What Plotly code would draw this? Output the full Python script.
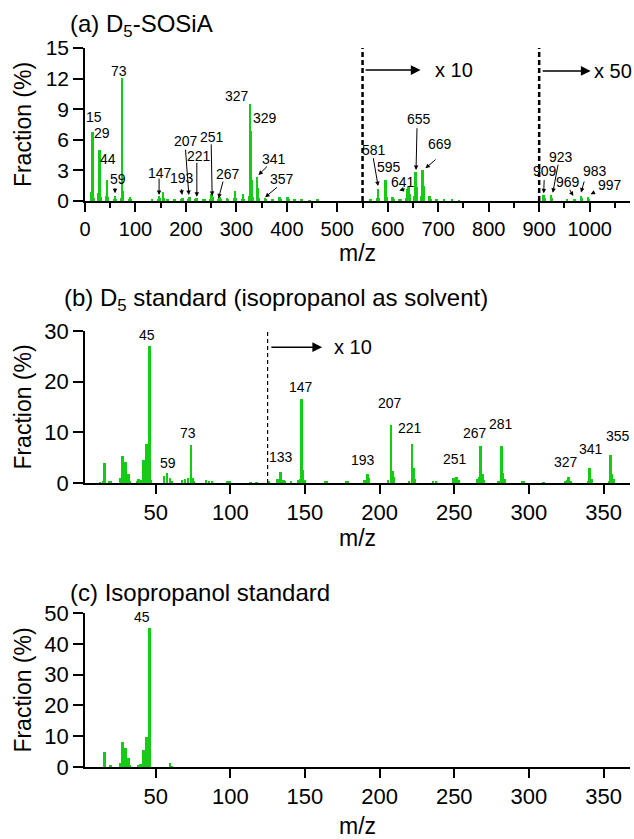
import plotly.graph_objects as go

FONT = "Liberation Sans, Arial, sans-serif"
GREEN = "#14cc14"

# ---------------- data (displayed fraction, %) ----------------
# (a) D5-SOSiA  (m/z > 550 shown x10, m/z > 900 shown x50)
mz_a = [12, 13, 14, 15, 16, 18, 26, 27, 28, 29, 30, 31, 43, 44, 45, 57, 59, 61,
        71, 73, 74, 75, 87, 89, 91, 133, 145, 147, 149, 155, 157, 163, 177,
        191, 193, 205, 207, 219, 221, 235, 237, 249, 251, 253, 265, 267, 269,
        281, 283, 295, 297, 299, 311, 313, 315, 325, 327, 329, 331, 333,
        341, 343, 345, 357, 359, 371, 373, 385, 387, 401, 403, 415, 429, 445, 461,
        565, 567, 579, 581, 583, 595, 597, 609, 611, 623, 625, 637, 639, 641, 643,
        653, 655, 657, 667, 669, 671, 683, 685, 697, 711, 727, 741,
        909, 911, 923, 925, 955, 969, 971, 983, 985, 997, 999]
frac_a = [0.2, 0.9, 0.6, 6.8, 0.5, 0.3, 0.3, 0.8, 0.6, 5.0, 0.4, 0.4, 0.5, 2.06, 0.4, 0.2, 0.5, 0.15,
          0.3, 12.1, 1.0, 0.4, 0.2, 0.42, 0.15, 0.1, 0.2, 0.5, 0.3, 0.88, 0.3, 0.2, 0.2,
          0.2, 0.3, 0.2, 0.35, 0.15, 0.3, 0.15, 0.2, 0.2, 0.68, 0.4, 0.2, 0.35, 0.15,
          0.25, 0.15, 0.3, 0.98, 0.3, 0.2, 0.69, 0.2, 0.5, 9.5, 6.9, 2.05, 0.4,
          2.4, 1.3, 0.3, 0.3, 0.15, 0.2, 0.1, 0.35, 0.2, 0.35, 0.15, 0.1, 0.1, 0.05, 0.1,
          0.15, 0.1, 0.3, 1.2, 0.3, 2.05, 0.4, 0.35, 0.15, 0.15, 0.2, 0.3, 1.2, 1.35, 0.7,
          0.5, 2.8, 1.4, 0.5, 3.0, 1.5, 0.45, 0.2, 0.1, 0.1, 0.1, 0.05,
          0.6, 0.3, 0.6, 0.3, 0.1, 0.2, 0.1, 0.5, 0.3, 0.4, 0.2]

# (b) D5 standard (isopropanol as solvent)  (m/z > 125 shown x10)
mz_b = [12, 14, 15, 18, 19, 26, 27, 29, 31, 32, 37, 38, 39, 41, 43, 44, 45, 46,
        55, 57, 59, 60, 67, 69, 71, 73, 74, 75, 83, 85, 87, 97, 99, 113, 117,
        125, 131, 133, 135, 136, 140, 145, 146, 147, 148, 149, 163, 164, 177, 178,
        189, 191, 192, 205, 207, 208, 209, 219, 221, 222, 223, 235, 237,
        249, 251, 252, 265, 266, 267, 268, 269, 279, 281, 282, 283, 295, 296, 309,
        324, 325, 326, 327, 339, 340, 341, 353, 354, 355, 356]
frac_b = [0.1, 0.3, 4.0, 0.3, 0.2, 0.9, 5.3, 4.1, 1.8, 0.4, 0.3, 0.7, 0.5, 4.5, 7.7, 0.8, 27.0, 0.5,
          1.3, 2.0, 1.0, 0.4, 0.5, 0.8, 0.9, 7.5, 0.9, 0.4, 0.5, 0.4, 0.3, 0.4, 0.3, 0.15, 0.1,
          0.3, 0.7, 2.2, 0.6, 0.3, 0.3, 0.5, 0.7, 16.5, 2.5, 0.6, 0.4, 0.3, 0.4, 0.2,
          0.5, 1.7, 1.0, 0.5, 11.4, 2.3, 1.2, 0.2, 7.75, 2.9, 0.8, 0.3, 0.2,
          0.9, 1.1, 0.5, 0.8, 1.2, 7.4, 1.7, 0.5, 0.4, 7.4, 1.9, 0.8, 0.4, 0.2, 0.1,
          0.3, 0.6, 1.2, 0.4, 0.3, 2.9, 0.8, 0.3, 5.5, 1.8, 0.8]

# (c) Isopropanol standard
mz_c = [15, 19, 26, 27, 29, 31, 32, 38, 39, 41, 43, 45, 59, 60]
frac_c = [4.8, 0.4, 1.3, 8.2, 6.3, 2.9, 0.4, 0.6, 1.0, 5.5, 9.8, 45.2, 1.4, 0.3]

# y-axis ticks
ticks_a_y = [0, 3, 6, 9, 12, 15]
ticks_b_y = [0, 10, 20, 30]
ticks_c_y = [0, 10, 20, 30, 40, 50]

# peak labels: (text, x, y)
labels_a = [("15", 18.5, 8.2), ("29", 33, 6.7), ("44", 45, 4.1), ("59", 65, 2.2),
            ("73", 67.5, 12.7), ("147", 149, 2.7), ("193", 192, 2.3),
            ("207", 200, 5.9), ("221", 225, 4.45), ("251", 252, 6.25),
            ("267", 284, 2.65), ("327", 301, 10.3), ("329", 356, 8.1),
            ("341", 375, 4.1), ("357", 390, 2.2), ("581", 572, 5.0),
            ("595", 602, 3.36), ("641", 631, 1.9), ("655", 661, 8.0),
            ("669", 703, 5.6), ("909", 911, 2.97), ("923", 944, 4.35),
            ("969", 958, 1.9), ("983", 1010, 2.95), ("997", 1040, 1.6)]
# pointer arrows: (tail x, tail y, head x, head y)
arrows_a = [(59.5, 1.4, 59.5, 0.75), (146.8, 2.35, 146.8, 0.6), (190.5, 1.3, 192.5, 0.6),
            (199, 5.17, 205.8, 0.59), (221.6, 3.9, 221.6, 0.42), (250, 5.7, 252, 0.5),
            (274.4, 2.05, 264.5, 0.26), (363.7, 3.53, 343.8, 2.55), (383.5, 1.47, 357, 0.36),
            (570.8, 4.34, 580.8, 1.47), (637, 1.23, 623, 1.03), (658, 7.28, 656, 3.04),
            (697.8, 4.19, 674.6, 3.2), (910, 2.2, 909, 0.75), (938, 3.7, 927, 0.81),
            (959, 1.25, 967.6, 0.49), (990, 2.06, 983, 0.83), (1012, 0.91, 1002, 0.66)]
labels_b = [("45", 44, 29.2), ("59", 58.5, 4.0), ("73", 72, 9.8), ("133", 133.7, 5.1),
            ("147", 147.1, 19.0), ("193", 188.9, 4.5), ("207", 207, 15.8),
            ("221", 220.4, 10.8), ("251", 250.5, 4.7), ("267", 264, 9.9),
            ("281", 281.3, 11.6), ("327", 325, 4.1), ("341", 341.6, 6.7), ("355", 359.8, 9.2)]
labels_c = [("45", 41.2, 48.6)]

fig = go.Figure()
fig.add_trace(go.Bar(x=mz_a, y=frac_a, width=5, marker=dict(color=GREEN, line=dict(width=0)),
                     xaxis="x", yaxis="y", showlegend=False))
fig.add_trace(go.Bar(x=mz_b, y=frac_b, width=1.8, offset=-0.2, marker=dict(color=GREEN, line=dict(width=0)),
                     xaxis="x2", yaxis="y2", showlegend=False))
fig.add_trace(go.Bar(x=mz_c, y=frac_c, width=1.8, offset=-0.2, marker=dict(color=GREEN, line=dict(width=0)),
                     xaxis="x3", yaxis="y3", showlegend=False))

W, H = 634, 839
def py(p):
    return 1 - p / H

axis_common = dict(showline=True, linecolor="black", linewidth=1.5, ticks="outside",
                   tickcolor="black", tickwidth=1.5, showgrid=False, zeroline=False,
                   color="black", automargin=False)
xdom = [85 / W, 630 / W]

layout = dict(
    width=W, height=H, margin=dict(l=0, r=0, t=0, b=0, autoexpand=False),
    paper_bgcolor="white", plot_bgcolor="white", barmode="overlay", bargap=0,
    font=dict(family=FONT, color="black"),
    xaxis=dict(axis_common, domain=xdom, anchor="y", range=[0, 1080], tick0=0, dtick=100,
               ticklen=9, tickfont=dict(size=20),
               minor=dict(dtick=50, tick0=0, ticklen=5, tickwidth=1.5, tickcolor="black", ticks="outside"),
               title=dict(text="m/z", font=dict(size=23), standoff=0)),
    yaxis=dict(axis_common, domain=[py(201), py(48)], anchor="x", range=[0, 15],
               tickvals=ticks_a_y, ticklen=10, tickfont=dict(size=21),
               title=dict(text="Fraction (%)", font=dict(size=23), standoff=8)),
    xaxis2=dict(axis_common, domain=xdom, anchor="y2", range=[2.7, 367.7], tick0=0, dtick=50,
                ticklen=9, tickfont=dict(size=22),
                title=dict(text="m/z", font=dict(size=23), standoff=0)),
    yaxis2=dict(axis_common, domain=[py(483), py(331)], anchor="x2", range=[0, 30],
                tickvals=ticks_b_y, ticklen=10, tickfont=dict(size=22),
                title=dict(text="Fraction (%)", font=dict(size=23), standoff=6)),
    xaxis3=dict(axis_common, domain=xdom, anchor="y3", range=[2.7, 367.7], tick0=0, dtick=50,
                ticklen=9, tickfont=dict(size=22),
                title=dict(text="m/z", font=dict(size=23), standoff=14)),
    yaxis3=dict(axis_common, domain=[py(767), py(613)], anchor="x3", range=[0, 50],
                tickvals=ticks_c_y, ticklen=10, tickfont=dict(size=22),
                title=dict(text="Fraction (%)", font=dict(size=23), standoff=6)),
)
fig.update_layout(**layout)

ann = []
# panel titles
ann.append(dict(text="(a) D<sub>5</sub>-SOSiA", x=68 / W, y=py(26), xref="paper", yref="paper",
                xanchor="left", yanchor="middle", showarrow=False, font=dict(size=24)))
ann.append(dict(text="(b) D<sub>5</sub> standard (isopropanol as solvent)", x=62 / W, y=py(299),
                xref="paper", yref="paper", xanchor="left", yanchor="middle", showarrow=False,
                font=dict(size=24)))
ann.append(dict(text="(c) Isopropanol standard", x=68 / W, y=py(592), xref="paper", yref="paper",
                xanchor="left", yanchor="middle", showarrow=False, font=dict(size=24)))

for t, x, y in labels_a:
    ann.append(dict(text=t, x=x, y=y, xref="x", yref="y", showarrow=False, font=dict(size=14)))
for tx, ty, hx, hy in arrows_a:
    ann.append(dict(text="", x=hx, y=hy, ax=tx, ay=ty, xref="x", yref="y", axref="x", ayref="y",
                    showarrow=True, arrowhead=2, arrowsize=0.9, arrowwidth=1, arrowcolor="black"))
for t, x, y in labels_b:
    ann.append(dict(text=t, x=x, y=y, xref="x2", yref="y2", showarrow=False, font=dict(size=14)))
for t, x, y in labels_c:
    ann.append(dict(text=t, x=x, y=y, xref="x3", yref="y3", showarrow=False, font=dict(size=14)))

# scale-change markers
ann.append(dict(text="", x=665, y=12.84, ax=553, ay=12.84, xref="x", yref="y", axref="x", ayref="y",
                showarrow=True, arrowhead=2, arrowsize=1.3, arrowwidth=1.5, arrowcolor="black"))
ann.append(dict(text="x 10", x=690, y=12.84, xref="x", yref="y", xanchor="left", showarrow=False,
                font=dict(size=20)))
ann.append(dict(text="", x=1002, y=12.75, ax=904, ay=12.75, xref="x", yref="y", axref="x", ayref="y",
                showarrow=True, arrowhead=2, arrowsize=1.3, arrowwidth=1.5, arrowcolor="black"))
ann.append(dict(text="x 50", x=1004, y=12.75, xref="x", yref="y", xanchor="left", showarrow=False,
                font=dict(size=20)))
ann.append(dict(text="", x=161.5, y=26.8, ax=126.5, ay=26.8, xref="x2", yref="y2", axref="x2", ayref="y2",
                showarrow=True, arrowhead=2, arrowsize=1.3, arrowwidth=1.5, arrowcolor="black"))
ann.append(dict(text="x 10", x=168, y=26.8, xref="x2", yref="y2", xanchor="left", showarrow=False,
                font=dict(size=20)))
fig.update_layout(annotations=ann)

shapes = [
    dict(type="line", xref="x", yref="y", x0=550, x1=550, y0=0, y1=15,
         line=dict(color="black", width=2.5, dash="5px,3px")),
    dict(type="line", xref="x", yref="y", x0=900, x1=900, y0=0, y1=15,
         line=dict(color="black", width=2.5, dash="5px,3px")),
    dict(type="line", xref="x2", yref="y2", x0=125, x1=125, y0=0, y1=30.5,
         line=dict(color="black", width=1.2, dash="4px,3px")),
]
fig.update_layout(shapes=shapes)

fig.write_html("out.html")
